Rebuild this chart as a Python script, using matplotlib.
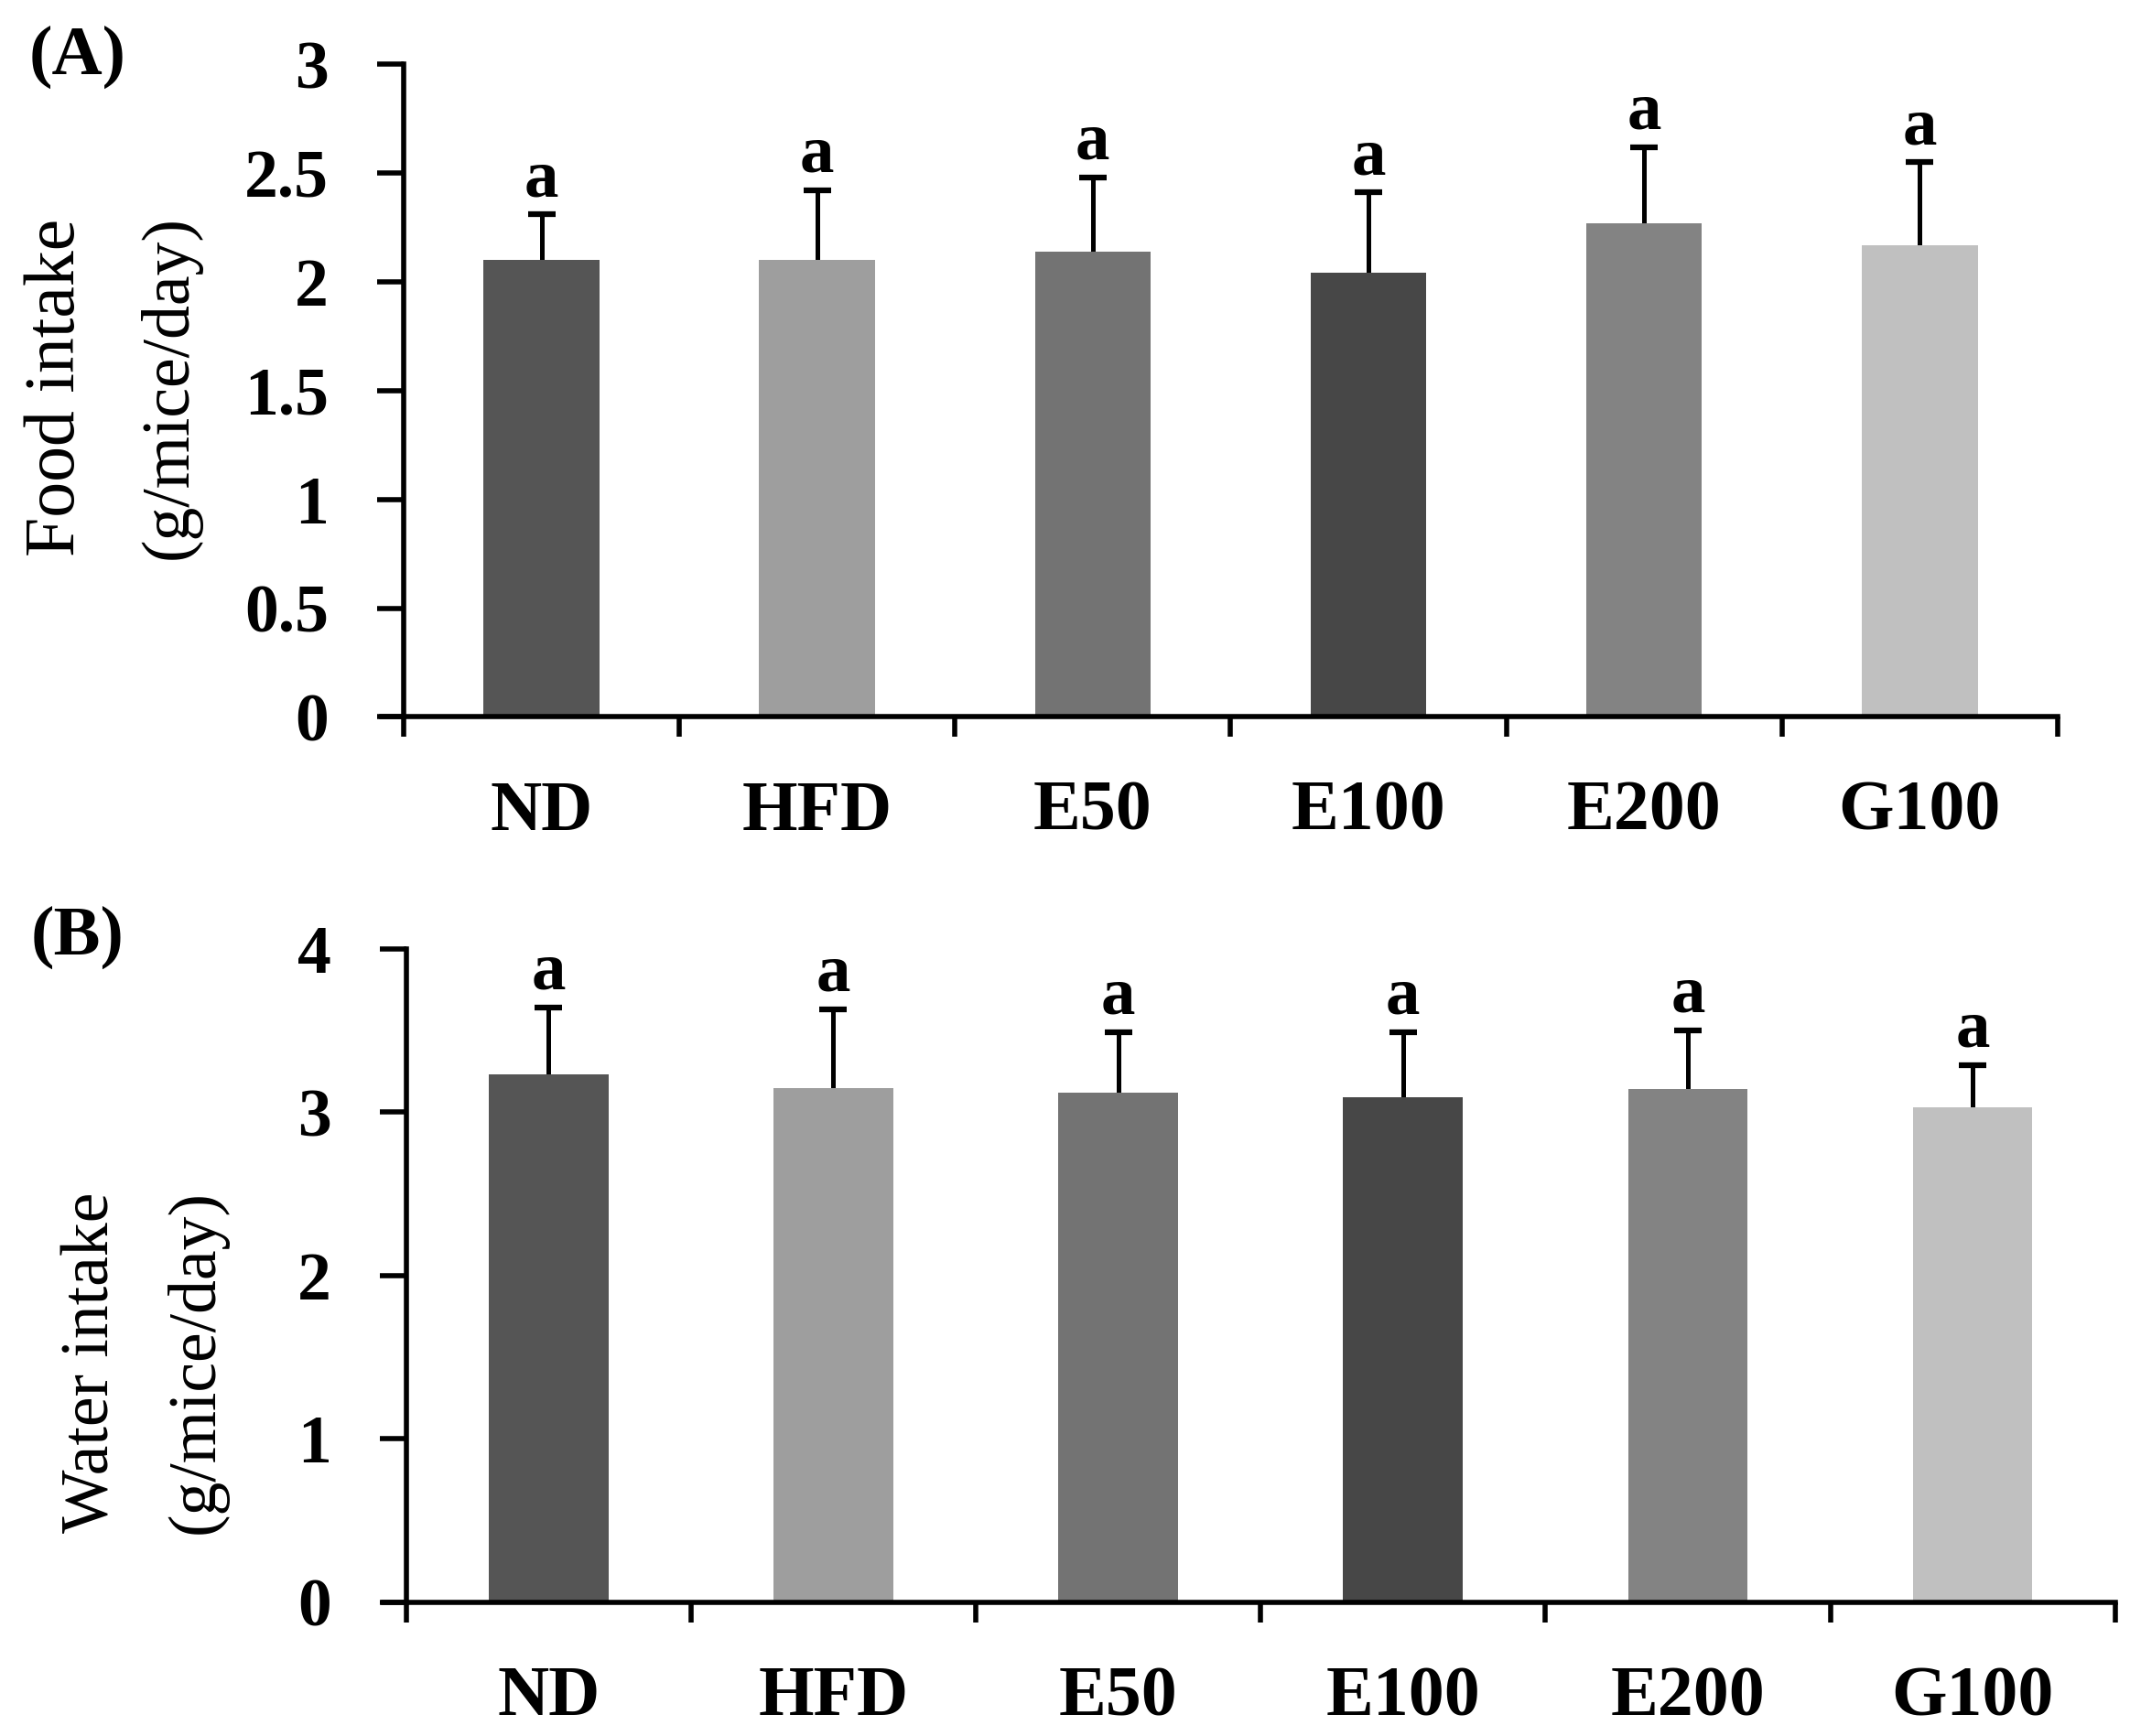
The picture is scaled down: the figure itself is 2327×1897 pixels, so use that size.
import matplotlib
matplotlib.use('Agg')
import matplotlib.pyplot as plt
import numpy as np

plt.rcParams['font.family'] = ['Liberation Serif', 'DejaVu Serif']

# groups and values
groups = ['ND', 'HFD', 'E50', 'E100', 'E200', 'G100']
bar_colors = ['#555555', '#9e9e9e', '#737373', '#474747', '#838383', '#c0c0c0']

food_mean = [2.10, 2.10, 2.14, 2.04, 2.27, 2.17]
food_err = [0.21, 0.32, 0.34, 0.37, 0.35, 0.38]
food_ticks = [0, 0.5, 1, 1.5, 2, 2.5, 3]
food_ticklabels = ['0', '0.5', '1', '1.5', '2', '2.5', '3']

water_mean = [3.23, 3.15, 3.12, 3.09, 3.14, 3.03]
water_err = [0.41, 0.48, 0.37, 0.40, 0.36, 0.26]
water_ticks = [0, 1, 2, 3, 4]
water_ticklabels = ['0', '1', '2', '3', '4']

letters = ['a', 'a', 'a', 'a', 'a', 'a']

fig = plt.figure(figsize=(23.27, 18.97), dpi=100)


def draw_panel(rect, means, errs, ticks, ticklabels, ymax):
    ax = fig.add_axes(rect)
    x = np.arange(len(groups))
    ax.bar(x, means, width=0.42, color=bar_colors, zorder=2)
    # symmetric bars drawn under the bars, so only the upper half shows
    ax.errorbar(x, means, yerr=errs, fmt='none',
                ecolor='black', elinewidth=3.6, capsize=11, capthick=4.5, zorder=1)
    for xi, m, e, t in zip(x, means, errs, letters):
        ax.annotate(t, (xi, m + e), xytext=(0, 3), textcoords='offset points',
                    ha='center', va='bottom', fontsize=54, fontweight='bold')
    ax.set_xlim(-0.5, len(groups) - 0.5)
    ax.set_ylim(0, ymax)
    for s in ['top', 'right']:
        ax.spines[s].set_visible(False)
    ax.spines['left'].set_linewidth(4)
    ax.spines['bottom'].set_linewidth(4)
    ax.spines['bottom'].set_bounds(-0.58, len(groups) - 0.5)
    ax.set_yticks(ticks)
    ax.set_yticklabels(ticklabels, fontsize=53, fontweight='bold')
    ax.tick_params(axis='y', length=21, width=4, pad=38)
    # category labels at centres, tick marks at boundaries
    ax.set_xticks(x)
    ax.set_xticklabels(groups, fontsize=56, fontweight='bold')
    ax.tick_params(axis='x', which='major', length=0, pad=50)
    ax.set_xticks(np.arange(-0.5, len(groups)), minor=True)
    ax.tick_params(axis='x', which='minor', length=16, width=4)
    return ax


axA = draw_panel([0.1895, 0.587, 0.7765, 0.376], food_mean, food_err,
                 food_ticks, food_ticklabels, 3)
axB = draw_panel([0.1907, 0.077, 0.8023, 0.3764], water_mean, water_err,
                 water_ticks, water_ticklabels, 4)

# y labels
fig.text(0.0268, 0.777, 'Food intake', rotation=90, ha='center', va='center', fontsize=56)
fig.text(0.0797, 0.777, '(g/mice/day)', rotation=90, ha='center', va='center', fontsize=53)
fig.text(0.0434, 0.2154, 'Water intake', rotation=90, ha='center', va='center', fontsize=53)
fig.text(0.0925, 0.2154, '(g/mice/day)', rotation=90, ha='center', va='center', fontsize=53)

# panel labels
fig.text(0.0363, 0.967, '(A)', ha='center', va='center', fontsize=55, fontweight='bold')
fig.text(0.0363, 0.460, '(B)', ha='center', va='center', fontsize=55, fontweight='bold')

fig.savefig('out.png', dpi=100)
